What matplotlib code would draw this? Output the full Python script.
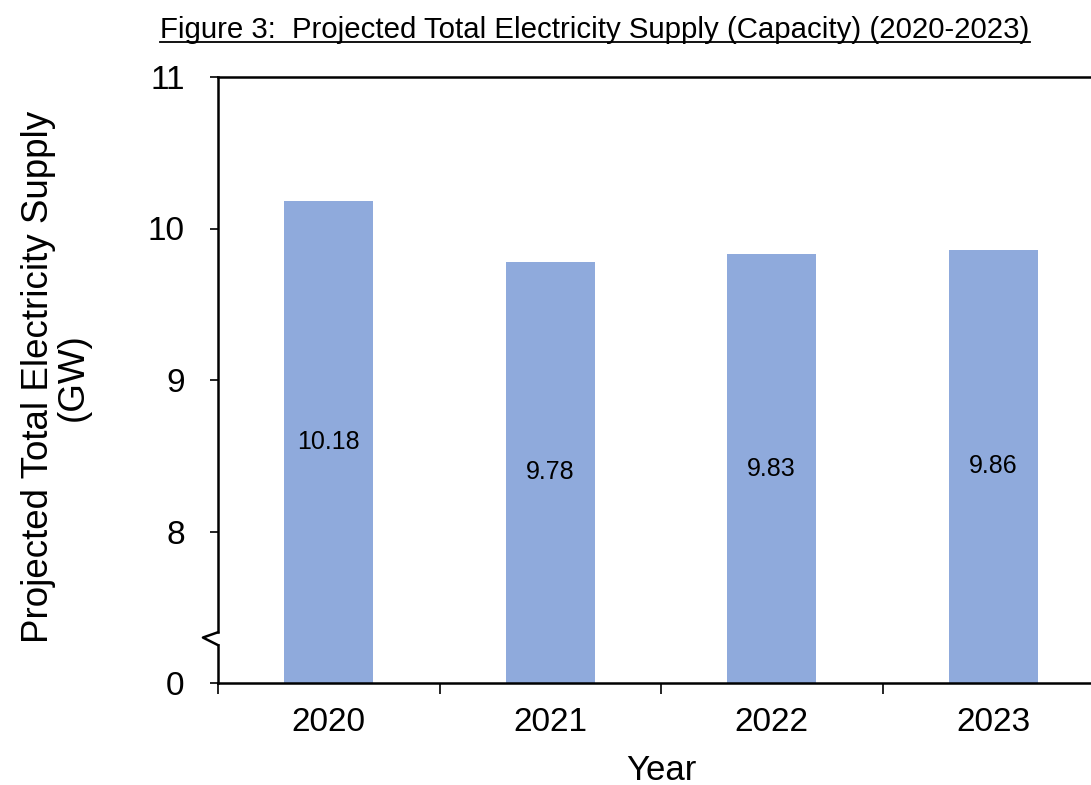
import matplotlib.pyplot as plt
from matplotlib.lines import Line2D

plt.rcParams['font.family'] = ['Liberation Sans', 'DejaVu Sans']

years = ["2020", "2021", "2022", "2023"]
supply = [10.18, 9.78, 9.83, 9.86]
tick_values = [0, 8, 9, 10, 11]

# broken axis: the "0" tick sits one unit below 8
base = 7
tick_pos = [base, 8, 9, 10, 11]

fig = plt.figure(figsize=(10.91, 7.85), dpi=100)
ax = fig.add_axes([218 / 1091, 102 / 785, 886 / 1091, 606 / 785])

x = range(len(years))
ax.bar(x, [v - base for v in supply], bottom=base, width=0.4, color="#8faadc")
for i, v in enumerate(supply):
    ax.text(i, (base + v) / 2, f"{v:.2f}", ha="center", va="center", fontsize=18)

ax.set_xlim(-0.5, len(years) - 0.5)
ax.set_ylim(base, 11)
ax.set_yticks(tick_pos)
ax.set_yticklabels([str(t) for t in tick_values])
ax.set_xticks(list(x))
ax.set_xticklabels(years)
ax.tick_params(axis="x", length=0, labelsize=24, pad=17)
ax.tick_params(axis="y", length=6, width=1.2, labelsize=24, pad=18)

# category boundary ticks
ax.set_xticks([i - 0.5 for i in range(len(years) + 1)], minor=True)
ax.tick_params(axis="x", which="minor", length=8, width=1.2, direction="out")

ax.spines["right"].set_visible(False)
ax.spines["left"].set_visible(False)
for s in ["top", "bottom"]:
    ax.spines[s].set_linewidth(1.8)

# left spine with break mark
ax.add_line(Line2D([-0.5, -0.5], [base, 7.25], color="black", lw=1.8, clip_on=False))
ax.add_line(Line2D([-0.5, -0.568, -0.5], [7.25, 7.30, 7.335], color="black", lw=1.8, clip_on=False))
ax.add_line(Line2D([-0.5, -0.5], [7.335, 11], color="black", lw=1.8, clip_on=False))

ax.set_ylabel("Projected Total Electricity Supply\n(GW)", fontsize=26.5, linespacing=1.0)
ax.yaxis.label.set_va("center")
ax.yaxis.set_label_coords(-0.183, 0.505)
ax.set_xlabel("Year", fontsize=25)
ax.xaxis.label.set_va("center")
ax.xaxis.set_label_coords(0.501, -0.1436)

title = fig.text(595 / 1091, 1 - 30 / 785, "Figure 3:  Projected Total Electricity Supply (Capacity) (2020-2023)",
                 ha="center", va="center", fontsize=21.2)
fig.canvas.draw()
bb = title.get_window_extent().transformed(fig.transFigure.inverted())
fig.add_artist(Line2D([bb.x0, bb.x1], [bb.y0 + 0.002, bb.y0 + 0.002], color="black", lw=1.3))

fig.savefig("out.png", dpi=100)
